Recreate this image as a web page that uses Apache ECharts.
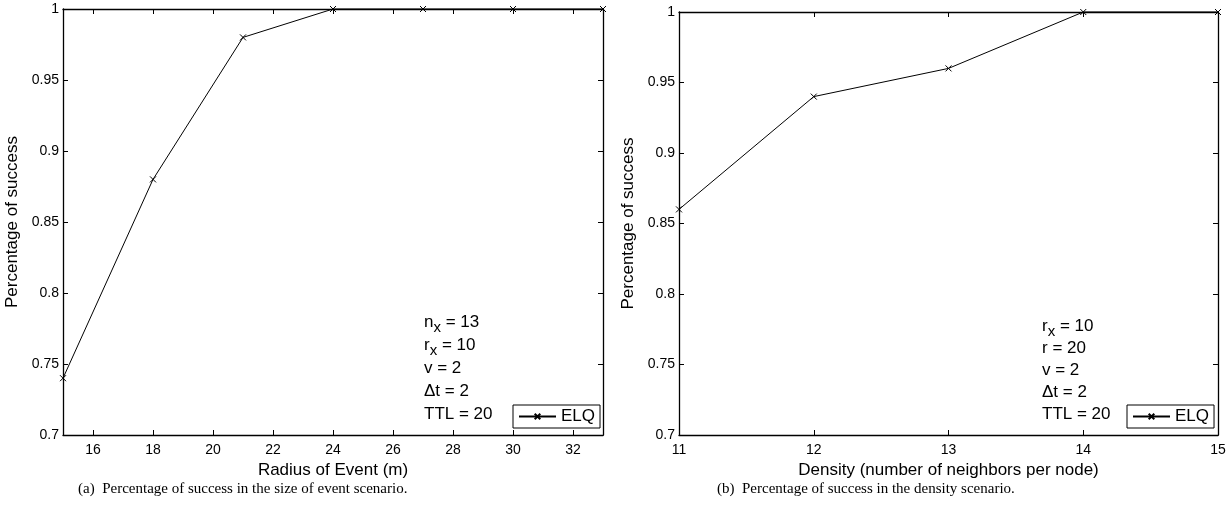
<!DOCTYPE html>
<html>
<head>
<meta charset="utf-8">
<script src="https://cdn.jsdelivr.net/npm/echarts@6/dist/echarts.min.js"></script>
<style>
  html, body { margin: 0; padding: 0; background: #fff; }
  #chart { width: 1229px; height: 518px; }
</style>
</head>
<body>
<div id="chart"></div>
<script>
// datos de las dos figuras
const radius = [15, 18, 21, 24, 27, 30, 33];
const successRadius = [0.74, 0.88, 0.98, 1, 1, 1, 1];
const density = [11, 12, 13, 14, 15];
const successDensity = [0.86, 0.94, 0.96, 1, 1];

const radiusTicks = [16, 18, 20, 22, 24, 26, 28, 30, 32];
const densityTicks = [11, 12, 13, 14, 15];
const successTicks = [0.7, 0.75, 0.8, 0.85, 0.9, 0.95, 1];

const paramsA = [['n', 'x', ' = 13'], ['r', 'x', ' = 10'], ['v = 2'], ['\u0394t = 2'], ['TTL = 20']];
const paramsB = [['r', 'x', ' = 10'], ['r = 20'], ['v = 2'], ['\u0394t = 2'], ['TTL = 20']];

const captionA = '(a)  Percentage of success in the size of event scenario.';
const captionB = '(b)  Percentage of success in the density scenario.';

const sans = 'Liberation Sans, Arial, Helvetica, sans-serif';
const serif = 'Liberation Serif, Times New Roman, serif';
const crossMark = 'path://M0,0L10,10M0,10L10,0';

const toRich = rows => rows.map(r => r.length === 3
    ? `{t|${r[0]}}{s|${r[1]}}{t|${r[2]}}`
    : `{t|${r[0]}}`).join('\n');

const xAxisPair = (grid, min, max, ticks, name) => [
    {
        type: 'value', gridIndex: grid, min: min, max: max, position: 'bottom',
        name: name, nameLocation: 'middle', nameGap: 24,
        nameTextStyle: { fontSize: 17, color: '#000', fontFamily: sans },
        axisLine: { lineStyle: { color: '#000', width: 1.3 } },
        axisTick: { inside: true, length: 5, customValues: ticks, lineStyle: { color: '#000' } },
        axisLabel: { customValues: ticks, fontSize: 14, color: '#000', fontFamily: sans, margin: 8 },
        splitLine: { show: false }
    },
    {
        type: 'value', gridIndex: grid, min: min, max: max, position: 'top',
        axisLine: { lineStyle: { color: '#000', width: 1.3 } },
        axisTick: { inside: true, length: 5, customValues: ticks, lineStyle: { color: '#000' } },
        axisLabel: { show: false },
        splitLine: { show: false }
    }
];

const yAxisPair = (grid, gap) => [
    {
        type: 'value', gridIndex: grid, min: 0.7, max: 1, position: 'left',
        name: 'Percentage of success', nameLocation: 'middle', nameGap: gap,
        nameTextStyle: { fontSize: 17, color: '#000', fontFamily: sans },
        axisLine: { lineStyle: { color: '#000', width: 1.3 } },
        axisTick: { inside: true, length: 5, customValues: successTicks, lineStyle: { color: '#000' } },
        axisLabel: { customValues: successTicks, fontSize: 14, color: '#000', fontFamily: sans, margin: 4 },
        splitLine: { show: false }
    },
    {
        type: 'value', gridIndex: grid, min: 0.7, max: 1, position: 'right',
        axisLine: { lineStyle: { color: '#000', width: 1.3 } },
        axisTick: { inside: true, length: 5, customValues: successTicks, lineStyle: { color: '#000' } },
        axisLabel: { show: false },
        splitLine: { show: false }
    }
];

const lineSeries = (xi, yi, xs, ys) => ({
    name: 'ELQ', type: 'line', xAxisIndex: xi, yAxisIndex: yi,
    data: xs.map((x, i) => [x, ys[i]]),
    symbol: crossMark, symbolSize: 6, clip: false,
    lineStyle: { color: '#000', width: 1 },
    itemStyle: { color: 'none', borderColor: '#000', borderWidth: 1 },
    emphasis: { disabled: true }
});

// itemHeight chico para que la cruz de la leyenda sea pequeña
const legendBox = (left, top) => ({
    left: left, top: top, padding: [3, 5], itemWidth: 37, itemHeight: 7,
    borderColor: '#000', borderWidth: 1, backgroundColor: '#fff', borderRadius: 0,
    selectedMode: false, data: ['ELQ'],
    textStyle: { fontSize: 17, color: '#000', fontFamily: sans }
});

const richStyle = lh => ({
    t: { fontSize: 17, fontFamily: sans, color: '#000', lineHeight: lh },
    s: { fontSize: 15, fontFamily: sans, color: '#000', lineHeight: 16, verticalAlign: 'top', padding: [9, 0, 0, 0] }
});

const chart = echarts.init(document.getElementById('chart'));
chart.setOption({
    animation: false,
    grid: [
        { left: 63, top: 9, width: 540, height: 426 },
        { left: 679, top: 12, width: 539, height: 423 }
    ],
    xAxis: [].concat(
        xAxisPair(0, 15, 33, radiusTicks, 'Radius of Event (m)'),
        xAxisPair(1, 11, 15, densityTicks, 'Density (number of neighbors per node)')
    ),
    yAxis: [].concat(yAxisPair(0, 42), yAxisPair(1, 42)),
    legend: [legendBox(513, 405), legendBox(1127, 405)],
    series: [
        lineSeries(0, 0, radius, successRadius),
        lineSeries(2, 2, density, successDensity)
    ],
    graphic: [
        { type: 'text', left: 424, top: 311, style: { text: toRich(paramsA), rich: richStyle(23) } },
        { type: 'text', left: 1042, top: 315, style: { text: toRich(paramsB), rich: richStyle(22) } },
        { type: 'text', left: 78, top: 482, style: { text: captionA, fontSize: 15, fontFamily: serif, fill: '#000' } },
        { type: 'text', left: 717, top: 482, style: { text: captionB, fontSize: 15, fontFamily: serif, fill: '#000' } }
    ]
});
</script>
</body>
</html>
